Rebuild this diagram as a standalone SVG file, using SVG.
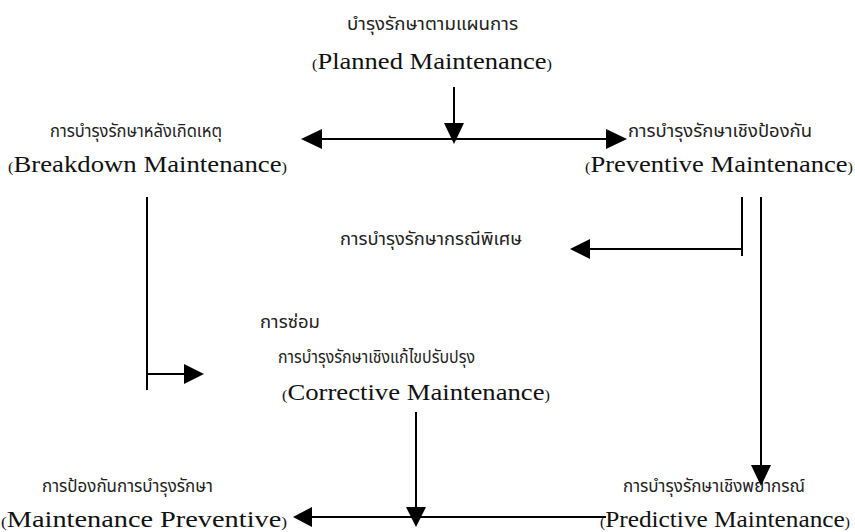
<svg xmlns="http://www.w3.org/2000/svg" width="855" height="532" viewBox="0 0 855 532">
  <style>
    .th { font-family: "Noto Sans Thai", "Noto Sans", "DejaVu Sans", sans-serif; font-size: 17px; fill: #222; }
    .en { font-family: "Liberation Serif", "Times New Roman", serif; font-size: 23px; fill: #111; }
    .en .p { font-size: 14px; }
    .ln { stroke: #000; stroke-width: 2; fill: none; }
    .ah { fill: #000; }
  </style>
  <rect width="855" height="532" fill="#fff"/>

  <g id="planned">
    <text class="th" x="347" y="30" textLength="171" lengthAdjust="spacingAndGlyphs">บำรุงรักษาตามแผนการ</text>
    <text class="en" x="312" y="69" textLength="240" lengthAdjust="spacingAndGlyphs"><tspan class="p">(</tspan>Planned Maintenance<tspan class="p">)</tspan></text>
  </g>

  <g id="breakdown">
    <text class="th" x="50" y="137" textLength="172" lengthAdjust="spacingAndGlyphs">การบำรุงรักษาหลังเกิดเหตุ</text>
    <text class="en" x="8" y="172" textLength="279" lengthAdjust="spacingAndGlyphs"><tspan class="p">(</tspan>Breakdown Maintenance<tspan class="p">)</tspan></text>
  </g>

  <g id="preventive">
    <text class="th" x="628" y="137" textLength="184" lengthAdjust="spacingAndGlyphs">การบำรุงรักษาเชิงป้องกัน</text>
    <text class="en" x="585" y="172" textLength="268" lengthAdjust="spacingAndGlyphs"><tspan class="p">(</tspan>Preventive Maintenance<tspan class="p">)</tspan></text>
  </g>

  <g id="special">
    <text class="th" x="340" y="245" textLength="182" lengthAdjust="spacingAndGlyphs">การบำรุงรักษากรณีพิเศษ</text>
  </g>

  <g id="corrective">
    <text class="th" x="260" y="328" textLength="60" lengthAdjust="spacingAndGlyphs">การซ่อม</text>
    <text class="th" x="278" y="363" textLength="197" lengthAdjust="spacingAndGlyphs">การบำรุงรักษาเชิงแก้ไขปรับปรุง</text>
    <text class="en" x="282" y="400" textLength="268" lengthAdjust="spacingAndGlyphs"><tspan class="p">(</tspan>Corrective Maintenance<tspan class="p">)</tspan></text>
  </g>

  <g id="maintenance-preventive">
    <text class="th" x="42" y="492" textLength="171" lengthAdjust="spacingAndGlyphs">การป้องกันการบำรุงรักษา</text>
    <text class="en" x="1" y="527" textLength="286" lengthAdjust="spacingAndGlyphs"><tspan class="p">(</tspan>Maintenance Preventive<tspan class="p">)</tspan></text>
  </g>

  <g id="predictive">
    <text class="th" x="623" y="492" textLength="182" lengthAdjust="spacingAndGlyphs">การบำรุงรักษาเชิงพยากรณ์</text>
    <text class="en" x="600" y="527" textLength="250" lengthAdjust="spacingAndGlyphs"><tspan class="p">(</tspan>Predictive Maintenance<tspan class="p">)</tspan></text>
  </g>

  <g id="connectors">
    <!-- planned down to the split bar -->
    <line class="ln" x1="454" y1="87" x2="454" y2="125"/>
    <polygon class="ah" points="444,123 464,123 454,144"/>
    <!-- split bar: breakdown / preventive -->
    <line class="ln" x1="320" y1="139" x2="609" y2="139"/>
    <polygon class="ah" points="301,139 322,129 322,149"/>
    <polygon class="ah" points="627,139 606,129 606,149"/>

    <!-- breakdown down to corrective -->
    <line class="ln" x1="147" y1="197" x2="147" y2="390"/>
    <line class="ln" x1="147" y1="374" x2="186" y2="374"/>
    <polygon class="ah" points="204,374 184,364 184,384"/>

    <!-- preventive branch to special case -->
    <line class="ln" x1="742" y1="197" x2="742" y2="256"/>
    <line class="ln" x1="742" y1="249" x2="588" y2="249"/>
    <polygon class="ah" points="570,249 590,239 590,259"/>

    <!-- preventive down to predictive -->
    <line class="ln" x1="761" y1="197" x2="761" y2="467"/>
    <polygon class="ah" points="751,465 771,465 761,486"/>

    <!-- corrective down to the bottom bar -->
    <line class="ln" x1="416" y1="412" x2="416" y2="509"/>
    <polygon class="ah" points="406,507 426,507 416,527"/>
    <!-- bottom bar from predictive to maintenance preventive -->
    <line class="ln" x1="310" y1="517" x2="606" y2="517"/>
    <polygon class="ah" points="293,517 312,507 312,527"/>
  </g>
</svg>
